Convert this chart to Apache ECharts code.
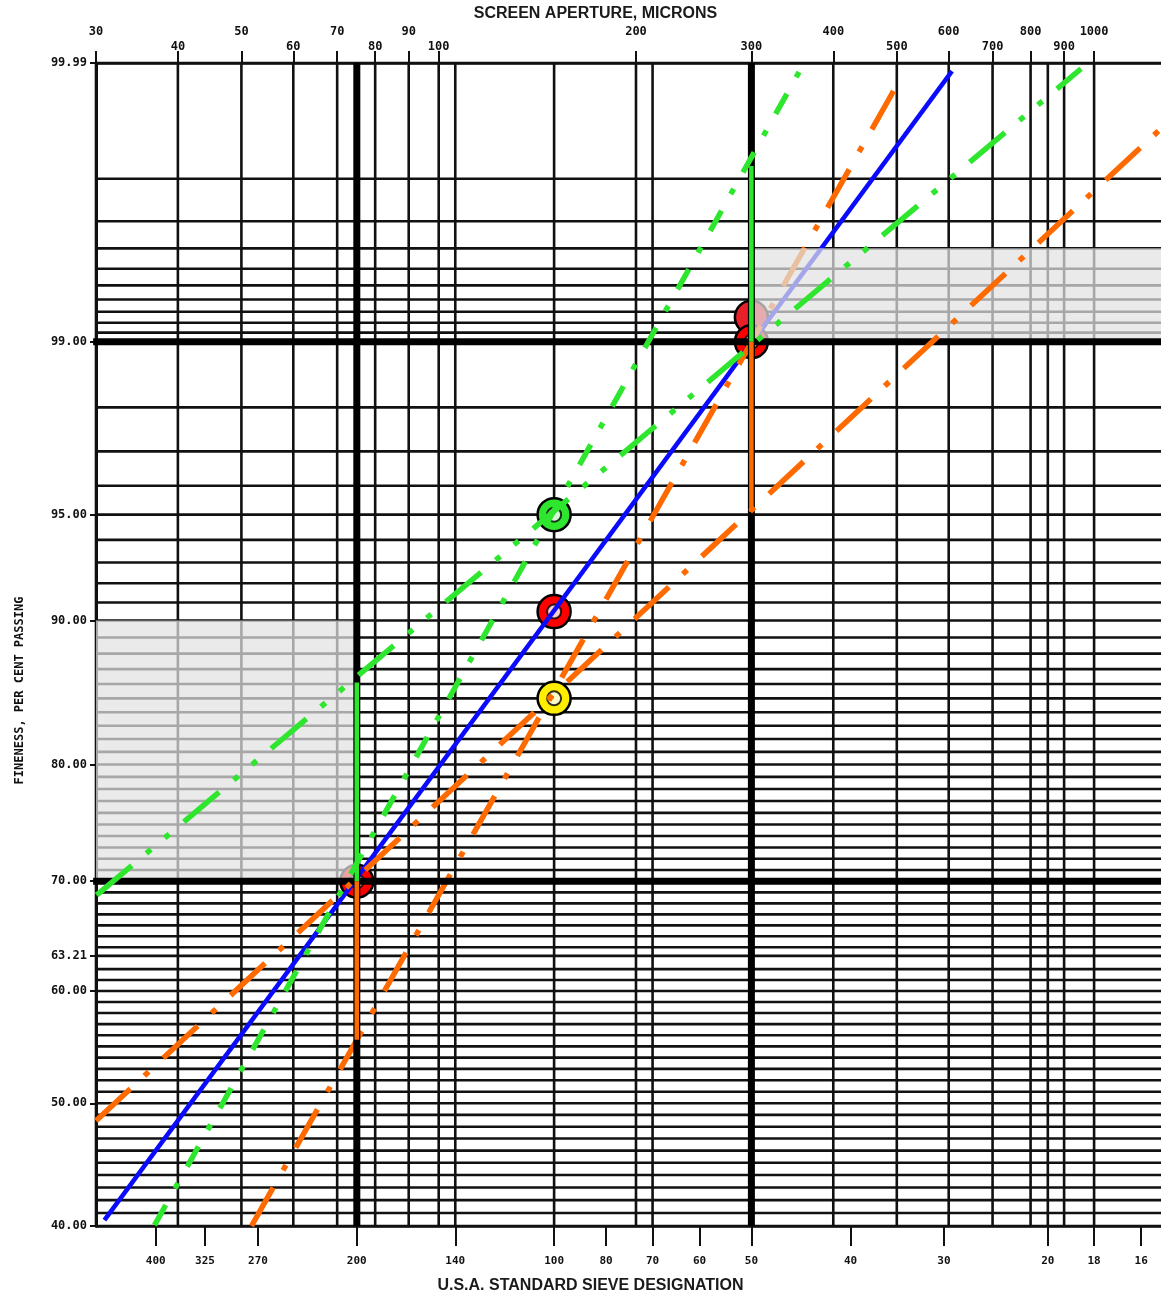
<!DOCTYPE html>
<html><head><meta charset="utf-8">
<script src="https://cdn.jsdelivr.net/npm/echarts@6/dist/echarts.min.js"></script>
<style>html,body{margin:0;padding:0;background:#fff}#c{width:1161px;height:1300px}</style>
</head><body><div id="c"></div>
<script>
// ---- data (microns on x, per cent passing on y) ----
const X_MIN = 30, X_MAX = 1265;
const apertureTicks = [30,40,50,60,70,80,90,100,200,300,400,500,600,700,800,900,1000];
const sieveLabels = ['400','325','270','200','140','100','80','70','60','50','40','30','20','18','16'];
const sieveMicrons = [37,44,53,75,106,150,180,212,250,300,425,590,850,1000,1180];
const verticalGridMicrons = [30,40,50,60,70,80,90,100,106,150,200,212,300,400,500,600,700,800,850,900,1000];
const percentLabels = [40,50,60,63.21,70,80,90,95,99,99.99];
const horizontalGridPercents = [40,41,42,43,44,45,46,47,48,49,50,51,52,53,54,55,56,57,58,59,60,61,62,63.21,64,65,66,67,68,69,70,71,72,73,74,75,76,77,78,79,80,81,82,83,84,85,86,87,88,89,90,91,92,93,94,95,96,97,98,99,99.1,99.2,99.3,99.4,99.5,99.6,99.7,99.8,99.9,99.99];
const thickMicrons = [75,300];
const thickPercents = [70,99];
const blueLine = [[30.9,40.45],[607,99.988]];
const greenSteep = [[36.85,40.07],[359.5,99.9895]];
const greenShallow = [[30.06,68.75],[955,99.9886]];
const orangeSteep = [[51.8,40.0],[500,99.9836]];
const orangeShallow = [[30,48.5],[1265,99.96]];
const redPoints = [[75,70],[150,90.5],[300,99]];
const greenPoints = [[150,95]];
const yellowPoints = [[150,85]];
const fadedPoints = [[300,99.25]];
const greenMarkers = [[75,70,86.1],[300,99,99.92]];   // micron, from %, to %
const orangeMarkers = [[75,70,55.6],[300,99,95.1]];
const shadedBands = [[30,70,75,90],[300,99,1265,99.7]]; // x1,%1,x2,%2

// ---- Rosin-Rammler transform ----
const T = p => Math.log(-Math.log(1 - p / 100));
const Tinv = v => 100 * (1 - Math.exp(-Math.exp(v)));
const pts = arr => arr.map(d => [d[0], T(d[1])]);
const nearestIdx = (arr, v) => { let b = 0; arr.forEach((a, i) => { if (Math.abs(Math.log(a) - Math.log(v)) < Math.abs(Math.log(arr[b]) - Math.log(v))) b = i; }); return b; };

function segSeries(segs, color, width, z) {
  return { type: 'custom', z, silent: true, animation: false, clip: false,
    data: segs, encode: { x: [0, 2], y: [1, 3] },
    renderItem: (p, api) => {
      const a = api.coord([api.value(0), api.value(1)]);
      const b = api.coord([api.value(2), api.value(3)]);
      return { type: 'line', shape: { x1: a[0], y1: a[1], x2: b[0], y2: b[1] },
        style: { stroke: color, lineWidth: width, lineCap: 'butt' } };
    } };
}
function rectSeries(rects, fill, z) {
  return { type: 'custom', z, silent: true, animation: false, clip: false,
    data: rects, encode: { x: [0, 2], y: [1, 3] },
    renderItem: (p, api) => {
      const a = api.coord([api.value(0), api.value(1)]);
      const b = api.coord([api.value(2), api.value(3)]);
      return { type: 'rect', shape: { x: Math.min(a[0], b[0]), y: Math.min(a[1], b[1]), width: Math.abs(b[0] - a[0]), height: Math.abs(b[1] - a[1]) },
        style: { fill } };
    } };
}
function dashLine(data, color, width, dash, z) {
  return { type: 'line', z, data: pts(data), showSymbol: false, silent: true, animation: false,
    lineStyle: { color, width, type: dash, cap: 'butt' } };
}
function dots(data, color, z) {
  return { type: 'scatter', z, data: pts(data), symbol: 'circle', symbolSize: 33, silent: true, animation: false,
    itemStyle: { color, borderColor: '#000', borderWidth: 2.5, opacity: 1 } };
}

const yMin = T(40), yMax = T(99.99);
const hSegs = horizontalGridPercents.map(p => [X_MIN, T(p), X_MAX, T(p)]);
const vSegs = verticalGridMicrons.map(m => [m, yMin, m, yMax]);
const thickSegs = thickMicrons.map(m => [m, yMax, m, yMin]).concat(thickPercents.map(p => [X_MIN * 0.99, T(p), X_MAX, T(p)]));
const gSegs = greenMarkers.map(d => [d[0], T(d[1]), d[0], T(d[2])]);
const oSegs = orangeMarkers.map(d => [d[0], T(d[1]), d[0], T(d[2])]);
const bands = shadedBands.map(d => [d[0], T(d[1]), d[2], T(d[3])]);
const holes = redPoints.concat(greenPoints, yellowPoints);

const MONO = 'DejaVu Sans Mono';
const chart = echarts.init(document.getElementById('c'), null, { renderer: 'canvas' });
chart.setOption({
  animation: false,
  backgroundColor: '#fff',
  grid: { left: 96, right: 0, top: 63, bottom: 74 },
  xAxis: [
    { type: 'log', min: X_MIN, max: X_MAX, position: 'bottom',
      name: 'U.S.A. STANDARD SIEVE DESIGNATION', nameLocation: 'middle', nameGap: 52,
      nameTextStyle: { fontFamily: 'Liberation Sans', fontWeight: 'bold', fontSize: 16, color: '#1a1a1a', padding: [0, 76, 0, 0] },
      axisLine: { show: true, onZero: false, lineStyle: { color: '#111', width: 2.5 } },
      axisTick: { show: true, customValues: sieveMicrons, length: 20, lineStyle: { color: '#111', width: 2 } },
      axisLabel: { customValues: sieveMicrons, margin: 30, fontFamily: MONO, fontWeight: 'bold', fontSize: 11, color: '#111',
        formatter: v => sieveLabels[nearestIdx(sieveMicrons, v)] },
      splitLine: { show: false }, minorTick: { show: false } },
    { type: 'log', min: X_MIN, max: X_MAX, position: 'top',
      name: 'SCREEN APERTURE, MICRONS', nameLocation: 'middle', nameGap: 40,
      nameTextStyle: { fontFamily: 'Liberation Sans', fontWeight: 'bold', fontSize: 16, color: '#1a1a1a', padding: [0, 66, 0, 0] },
      axisLine: { show: true, onZero: false, lineStyle: { color: '#111', width: 2.5 } },
      axisTick: { show: true, customValues: apertureTicks, length: 12, lineStyle: { color: '#111', width: 2 } },
      axisLabel: { customValues: apertureTicks, margin: 10, fontFamily: MONO, fontWeight: 'bold', fontSize: 12, color: '#111',
        formatter: v => { const i = nearestIdx(apertureTicks, v); return (i % 2 === 0 ? '{hi|' : '{lo|') + apertureTicks[i] + '}'; },
        rich: { hi: { padding: [0, 0, 15, 0], fontFamily: MONO, fontWeight: 'bold', fontSize: 12, color: '#111' },
                lo: { padding: [0, 0, 0, 0], fontFamily: MONO, fontWeight: 'bold', fontSize: 12, color: '#111' } } },
      splitLine: { show: false } }
  ],
  yAxis: { type: 'value', min: yMin, max: yMax,
    name: 'FINENESS, PER CENT PASSING', nameLocation: 'middle', nameGap: 70, nameRotate: 90,
    nameTextStyle: { fontFamily: MONO, fontWeight: 'bold', fontSize: 12, color: '#111', padding: [0, 92, 0, 0] },
    axisLine: { show: true, onZero: false, lineStyle: { color: '#111', width: 3 } },
    axisTick: { show: true, customValues: percentLabels.map(T), length: 6, lineStyle: { color: '#111', width: 2 } },
    axisLabel: { customValues: percentLabels.map(T), margin: 9, fontFamily: MONO, fontWeight: 'bold', fontSize: 12, color: '#111',
      formatter: v => Tinv(v).toFixed(2) },
    splitLine: { show: false } },
  series: [
    segSeries(hSegs, '#111', 2.6, 1),
    segSeries(vSegs, '#111', 2.6, 1),
    dots(fadedPoints, '#e8202a', 2),
    dots(redPoints, '#ff0000', 2),
    dots(greenPoints, '#2ee62e', 2),
    dots(yellowPoints, '#ffee00', 2),
    { type: 'scatter', z: 2, data: pts(holes), symbol: 'circle', symbolSize: 14, silent: true, animation: false,
      itemStyle: { color: '#fff', borderColor: '#000', borderWidth: 2 } },
    dashLine(blueLine, '#0a0aff', 4.5, 'solid', 3),
    dashLine(orangeSteep, '#ff6a00', 5.5, [44, 20, 6, 20], 3),
    rectSeries(bands, 'rgba(226,226,226,0.72)', 4),
    segSeries(thickSegs, '#000', 7, 5),
    dashLine(greenSteep, '#2ee62e', 5.5, [23, 19, 6, 19], 6),
    dashLine(greenShallow, '#2ee62e', 5.5, [46, 19, 6, 18, 6, 19], 6),
    dashLine(orangeShallow, '#ff6a00', 5.5, [47, 19, 6, 20], 6),
    segSeries(gSegs, '#2ee62e', 4.5, 7),
    segSeries(oSegs, '#ff6a00', 4.5, 7)
  ]
});
</script></body></html>
